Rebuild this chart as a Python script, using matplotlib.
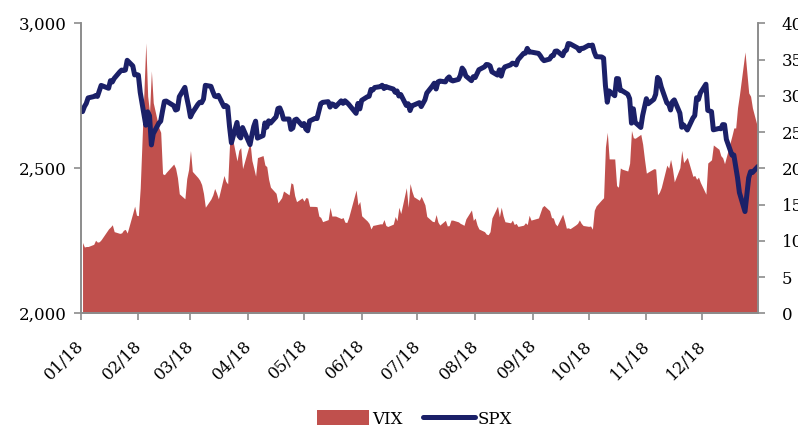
import numpy as np
import pandas as pd
import matplotlib
matplotlib.use("Agg")
import matplotlib.pyplot as plt
import matplotlib.dates as mdates
import matplotlib.transforms as mtransforms
from matplotlib.patches import Patch
from matplotlib.lines import Line2D
from matplotlib.ticker import FuncFormatter, FixedLocator

plt.rcParams['font.family'] = ['DejaVu Serif']

# NYSE trading days of 2018
holidays = ['2018-01-01', '2018-01-15', '2018-02-19', '2018-03-30', '2018-05-28',
            '2018-07-04', '2018-09-03', '2018-11-22', '2018-12-05', '2018-12-25']
fechas = pd.bdate_range('2018-01-01', '2018-12-31')
fechas = fechas[~fechas.isin(pd.to_datetime(holidays))]

# S&P 500 closes (left axis)
spx = [
    # ene
    2695.81, 2713.06, 2723.99, 2743.15, 2747.71, 2751.29, 2748.23, 2767.56, 2786.24, 2776.42, 2802.56,
    2798.03, 2810.30, 2832.97, 2839.13, 2837.54, 2839.25, 2872.87, 2853.53, 2822.43, 2823.81,
    # feb
    2821.98, 2762.13, 2648.94, 2695.14, 2681.66, 2581.00, 2619.55, 2656.00, 2662.94, 2698.63,
    2731.20, 2732.22, 2716.26, 2701.33, 2703.96, 2747.30, 2779.60, 2744.28, 2713.83,
    # mar
    2677.67, 2691.25, 2720.94, 2728.12, 2726.80, 2738.97, 2786.57, 2783.02, 2765.31, 2749.48, 2747.33,
    2752.01, 2712.92, 2716.94, 2711.93, 2643.69, 2588.26, 2658.55, 2612.62, 2605.00, 2640.87,
    # abr
    2581.88, 2614.45, 2644.69, 2662.84, 2604.47, 2613.16, 2656.87, 2642.19, 2663.99, 2656.30, 2677.84,
    2706.39, 2708.64, 2693.13, 2670.14, 2670.29, 2634.56, 2639.40, 2666.94, 2669.91, 2648.05,
    # may
    2654.80, 2635.67, 2629.73, 2663.42, 2672.63, 2671.92, 2697.79, 2723.07, 2727.72, 2730.13, 2711.45,
    2722.46, 2720.13, 2712.97, 2733.01, 2724.44, 2733.29, 2727.76, 2721.33, 2689.86, 2724.01, 2705.27,
    # jun
    2734.62, 2746.87, 2748.80, 2772.35, 2770.37, 2779.03, 2782.00, 2786.85, 2775.63, 2782.49, 2779.66,
    2773.75, 2762.59, 2767.32, 2749.76, 2754.88, 2717.07, 2723.06, 2699.63, 2716.31, 2718.37,
    # jul
    2726.71, 2713.22, 2736.61, 2759.82, 2784.17, 2793.84, 2774.02, 2798.29, 2801.31, 2798.43, 2809.55,
    2815.62, 2804.49, 2801.83, 2806.98, 2820.40, 2846.07, 2837.44, 2818.82, 2802.60, 2816.29,
    # ago
    2813.36, 2827.22, 2840.35, 2850.40, 2858.45, 2857.70, 2853.58, 2833.28, 2821.93, 2839.96, 2818.37,
    2840.69, 2850.13, 2857.05, 2862.96, 2861.82, 2856.98, 2874.69, 2896.74, 2897.52, 2914.04, 2901.13,
    2901.52,
    # sep
    2896.72, 2888.60, 2878.05, 2871.68, 2877.13, 2887.89, 2888.92, 2904.18, 2904.98, 2888.80,
    2904.31, 2907.95, 2930.75, 2929.67, 2919.37, 2915.56, 2905.97, 2914.00, 2913.98,
    # oct
    2924.59, 2923.43, 2925.51, 2901.61, 2885.57, 2884.43, 2880.34, 2785.68, 2728.37, 2767.13, 2750.79,
    2809.92, 2809.21, 2768.78, 2767.78, 2755.88, 2740.69, 2656.10, 2705.57, 2658.69, 2641.25, 2682.63,
    2711.74,
    # nov
    2740.37, 2723.06, 2738.31, 2755.45, 2813.89, 2806.83, 2781.01, 2726.22, 2722.18, 2701.58, 2730.20,
    2736.27, 2690.73, 2641.89, 2649.93, 2632.56, 2673.45, 2682.17, 2743.79, 2737.80, 2760.17,
    # dic
    2790.37, 2700.06, 2695.95, 2633.08, 2637.72, 2636.78, 2651.07, 2650.54, 2599.95, 2545.94,
    2546.16, 2506.96, 2467.42, 2416.62, 2351.10, 2467.70, 2488.83, 2485.74, 2506.85,
]

# VIX closes (right axis)
vix = [
    # ene
    9.77, 9.15, 9.22, 9.22, 9.52, 10.08, 9.82, 9.88, 10.16, 11.66, 11.91, 12.22, 11.27, 11.03, 11.10,
    11.47, 11.58, 11.08, 13.84, 14.79, 13.54,
    # feb
    13.47, 17.31, 37.32, 29.98, 27.73, 33.46, 29.06, 25.61, 24.97, 19.26, 19.13, 19.46, 20.60, 20.02,
    18.72, 16.49, 15.80, 18.59, 19.85,
    # mar
    22.47, 19.59, 18.73, 18.36, 17.76, 16.54, 14.64, 15.78, 16.35, 17.23, 16.59, 15.80, 19.02, 18.20,
    17.86, 23.34, 24.87, 21.03, 22.50, 22.87, 19.97,
    # abr
    23.62, 21.10, 20.06, 18.94, 21.49, 21.77, 20.47, 20.24, 18.49, 17.41, 16.56, 15.25, 15.60, 15.96,
    16.88, 16.34, 18.02, 17.84, 16.24, 15.41, 15.93,
    # may
    15.49, 15.97, 15.90, 14.77, 14.75, 14.71, 13.42, 13.23, 12.65, 12.93, 14.63, 13.42, 13.43, 13.42,
    13.08, 13.22, 12.58, 12.53, 13.22, 17.02, 14.94, 15.43,
    # jun
    13.46, 12.74, 12.40, 11.64, 12.13, 12.18, 12.35, 12.34, 12.94, 12.12, 11.98, 12.31, 13.35, 12.79,
    14.64, 13.77, 17.33, 14.64, 17.91, 16.85, 16.09,
    # jul
    15.60, 16.14, 14.97, 13.37, 12.69, 12.64, 13.63, 12.58, 12.18, 12.83, 12.06, 12.10, 12.87, 12.86,
    12.62, 12.41, 12.29, 12.14, 13.03, 14.26, 12.83,
    # ago
    13.15, 12.19, 11.64, 11.27, 10.93, 10.85, 11.27, 13.16, 14.78, 13.31, 14.64, 13.45, 12.64, 12.49,
    12.86, 12.25, 12.41, 11.99, 12.16, 12.50, 12.25, 13.53, 12.86,
    # sep
    13.16, 13.91, 14.65, 14.88, 14.16, 13.22, 13.14, 12.37, 12.07, 13.68, 12.79, 11.75, 11.80, 11.68,
    12.20, 12.42, 12.89, 12.41, 12.12,
    # oct
    12.00, 12.05, 11.61, 14.22, 14.82, 15.69, 15.95, 22.96, 24.98, 21.31, 21.30, 17.62, 17.40, 20.06,
    19.89, 19.64, 20.71, 25.23, 24.22, 24.16, 24.70, 23.35, 21.23,
    # nov
    19.34, 19.51, 19.96, 19.91, 16.36, 16.72, 17.36, 20.45, 20.02, 21.25, 19.98, 18.14, 20.10, 22.48,
    20.80, 21.52, 18.90, 19.02, 18.49, 18.79, 18.07,
    # dic
    16.44, 20.74, 21.19, 23.23, 22.64, 21.76, 21.46, 20.65, 21.63, 24.52, 25.58, 25.58, 28.38, 30.11,
    36.07, 30.41, 29.96, 28.34, 25.42,
]

spx_ticks = [2000, 2500, 3000]
vix_ticks = [0, 5, 10, 15, 20, 25, 30, 35, 40]

color_vix = '#C0504D'
color_spx = '#1B2068'
gris = '#8C8C8C'

fig = plt.figure(figsize=(7.98, 4.25), dpi=100)
ax = fig.add_axes([0.1011, 0.2628, 0.8488, 0.682])
ax2 = ax.twinx()

ax2.fill_between(fechas, 0, vix, color=color_vix, lw=0)
ax.plot(fechas, spx, color=color_spx, lw=3.6, solid_capstyle='round', solid_joinstyle='round')

# line on top of the area
ax.set_zorder(ax2.get_zorder() + 1)
ax.patch.set_visible(False)

ax.set_xlim(pd.Timestamp('2018-01-01'), pd.Timestamp('2018-12-31'))
ax.set_ylim(2000, 3000)
ax2.set_ylim(0, 40)
ax.yaxis.set_major_locator(FixedLocator(spx_ticks))
ax.yaxis.set_major_formatter(FuncFormatter(lambda v, p: f'{int(v):,}'))
ax2.yaxis.set_major_locator(FixedLocator(vix_ticks))

ax.xaxis.set_major_locator(mdates.MonthLocator())
ax.xaxis.set_major_formatter(mdates.DateFormatter('%m/%y'))

for a in (ax, ax2):
    for s in a.spines.values():
        s.set_color(gris)
        s.set_linewidth(1.2)
    a.spines['top'].set_visible(False)
    a.tick_params(colors=gris, labelcolor='black', labelsize=12, length=5, width=1.2)

ax.tick_params(axis='y', pad=5)
ax2.tick_params(axis='y', pad=12)
ax.tick_params(axis='x', pad=12)

offset = mtransforms.ScaledTranslation(0.07, 0, fig.dpi_scale_trans)
for lbl in ax.get_xticklabels():
    lbl.set_rotation(45)
    lbl.set_ha('right')
    lbl.set_va('top')
    lbl.set_transform(lbl.get_transform() + offset)

handles = [Patch(facecolor=color_vix, edgecolor='none', label='VIX'),
           Line2D([], [], color=color_spx, lw=3.6, solid_capstyle='round', label='SPX')]
fig.legend(handles=handles, loc='center', bbox_to_anchor=(0.52, 0.014), ncol=2, frameon=False,
           fontsize=12, handlelength=3.1, handleheight=1.0, handletextpad=0.2, columnspacing=1.2)

fig.savefig('out.png', dpi=100)
